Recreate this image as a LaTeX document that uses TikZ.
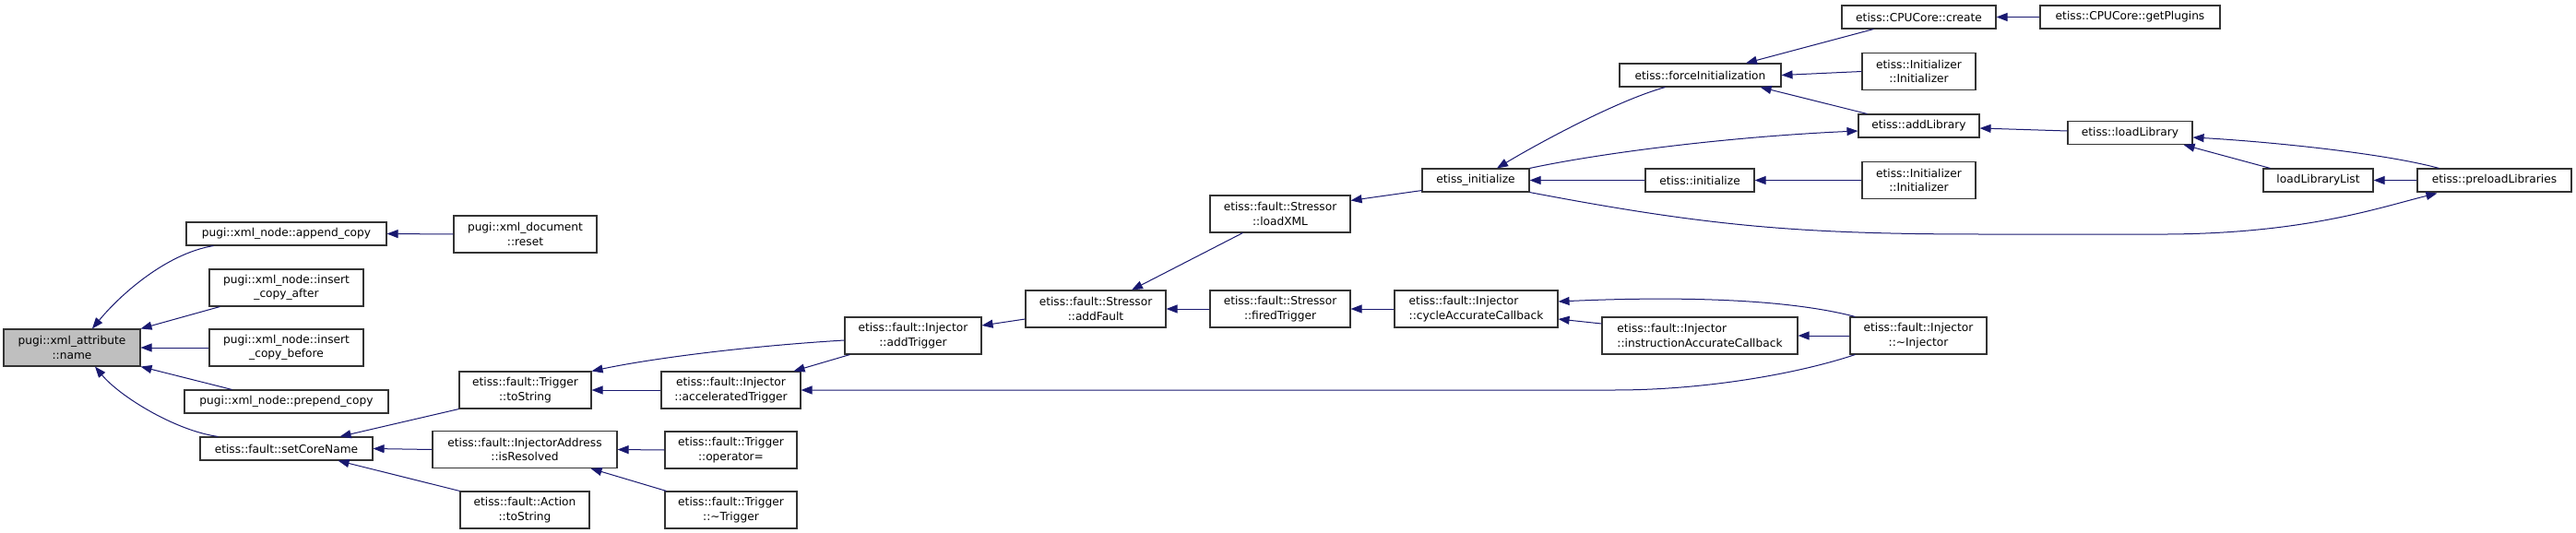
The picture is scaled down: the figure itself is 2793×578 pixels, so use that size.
\documentclass[tikz,border=0pt]{standalone}
\usepackage{fontspec}
\setmainfont{DejaVu Sans}
\usetikzlibrary{arrows.meta,calc}
\definecolor{edgeblue}{HTML}{191970}
\definecolor{rootgray}{HTML}{BFBFBF}
\definecolor{boxline}{HTML}{333333}
\begin{document}
\begin{tikzpicture}[x=1pt,y=-1pt,
  box/.style={draw=boxline, line width=1.1pt, fill=white, rectangle, inner sep=0pt, align=center, font=\fontsize{12.2}{15.5}\selectfont},
  lbox/.style={box, align=left},
  rootbox/.style={box, fill=rootgray},
  callarrow/.style={draw=edgeblue, line width=1pt, {Triangle[length=12pt,width=9pt]}-},
  sz/.style 2 args={minimum width=#1pt, minimum height=#2pt}]
\useasboundingbox (0,0) rectangle (2793,578);

% ---- nodes ----
\node[rootbox, sz={148}{40}] (name) at (78,377) {pugi::xml\_attribute\\::name};
\node[box, sz={217}{25}] (append) at (310.5,253.5) {pugi::xml\_node::append\_copy};
\node[box, sz={167}{40}] (after) at (310.5,312) {pugi::xml\_node::insert\\\_copy\_after};
\node[box, sz={167}{40}] (before) at (310.5,377) {pugi::xml\_node::insert\\\_copy\_before};
\node[box, sz={221}{25}] (prepend) at (310.5,435.5) {pugi::xml\_node::prepend\_copy};
\node[box, sz={187}{25}] (setcore) at (310.5,486.5) {etiss::fault::setCoreName};
\node[box, sz={155}{40}] (reset) at (569.5,254) {pugi::xml\_document\\::reset};
\node[box, sz={143}{40}] (tostr) at (569.5,423) {etiss::fault::Trigger\\::toString};
\node[box, sz={200}{40}] (isres) at (569,487.5) {etiss::fault::InjectorAddress\\::isResolved};
\node[box, sz={140}{40}] (action) at (569,553) {etiss::fault::Action\\::toString};
\node[box, sz={151}{40}] (acc) at (792.5,423) {etiss::fault::Injector\\::acceleratedTrigger};
\node[box, sz={143}{40}] (opeq) at (792.5,488) {etiss::fault::Trigger\\::operator=};
\node[box, sz={143}{40}] (dtrig) at (792.5,553) {etiss::fault::Trigger\\::\textasciitilde Trigger};
\node[box, sz={148}{40}] (addtrig) at (990,364) {etiss::fault::Injector\\::addTrigger};
\node[box, sz={152}{40}] (addfault) at (1188,335) {etiss::fault::Stressor\\::addFault};
\node[box, sz={152}{40}] (loadxml) at (1388,232) {etiss::fault::Stressor\\::loadXML};
\node[box, sz={152}{40}] (fired) at (1388,335) {etiss::fault::Stressor\\::firedTrigger};
\node[lbox, sz={177}{40}] (cycle) at (1600.5,335) {etiss::fault::Injector\\::cycleAccurateCallback};
\node[lbox, sz={212}{40}] (instr) at (1843,364) {etiss::fault::Injector\\::instructionAccurateCallback};
\node[box, sz={148}{40}] (dinj) at (2080,364) {etiss::fault::Injector\\::\textasciitilde Injector};
\node[box, sz={116}{25}] (einit) at (1600,195.5) {etiss\_initialize};
\node[box, sz={175}{25}] (force) at (1843.5,81.5) {etiss::forceInitialization};
\node[box, sz={118}{25}] (initialize) at (1843,195.5) {etiss::initialize};
\node[box, sz={167}{25}] (create) at (2080.5,18.5) {etiss::CPUCore::create};
\node[box, sz={195}{25}] (getplug) at (2309.5,18.5) {etiss::CPUCore::getPlugins};
\node[box, sz={123}{40}] (initA) at (2080.5,77.5) {etiss::Initializer\\::Initializer};
\node[box, sz={131}{25}] (addlib) at (2080.5,136.5) {etiss::addLibrary};
\node[box, sz={135}{25}] (loadlib) at (2309.5,144) {etiss::loadLibrary};
\node[box, sz={123}{40}] (initB) at (2080.5,195.5) {etiss::Initializer\\::Initializer};
\node[box, sz={119}{25}] (lllist) at (2513.5,195.5) {loadLibraryList};
\node[box, sz={167}{25}] (preload) at (2704.5,195.5) {etiss::preloadLibraries};

% ---- edges (arrow head at the callee, path starts there) ----
\draw[callarrow] ($(name.north)+(22,0)$) .. controls (130,320) and (180,275) .. ($(append.south west)+(30,0)$);
\draw[callarrow] (name.north east) -- ($(after.south west)+(12,0)$);
\draw[callarrow] (name.east) -- (before.west);
\draw[callarrow] (name.south east) -- ($(prepend.north west)+(52,0)$);
\draw[callarrow] ($(name.south)+(25,0)$) .. controls (130,430) and (190,467) .. ($(setcore.north west)+(20,0)$);
\draw[callarrow] (append.east) -- (reset.west);
\draw[callarrow] ($(setcore.north east)+(-36,0)$) -- (tostr.south west);
\draw[callarrow] (setcore.east) -- (isres.west);
\draw[callarrow] ($(setcore.south east)+(-38,0)$) -- (action.north west);
\draw[callarrow] (tostr.north east) .. controls (700,390) and (800,376) .. ($(addtrig.west)+(0,5)$);
\draw[callarrow] (tostr.east) -- (acc.west);
\draw[callarrow] ($(acc.north east)+(-8,0)$) -- ($(addtrig.south west)+(6,0)$);
\draw[callarrow] (acc.east) -- (1750,423) .. controls (1850,423) and (1950,405) .. ($(dinj.south west)+(6,0)$);
\draw[callarrow] (isres.east) -- (opeq.west);
\draw[callarrow] ($(isres.south east)+(-29,0)$) -- ($(dtrig.north west)+(2,0)$);
\draw[callarrow] ($(addtrig.east)+(0,-11)$) -- ($(addfault.west)+(0,11)$);
\draw[callarrow] ($(addfault.north)+(39,0)$) -- ($(loadxml.south west)+(36,0)$);
\draw[callarrow] (addfault.east) -- (fired.west);
\draw[callarrow] ($(loadxml.north east)+(0,6)$) -- ($(einit.south west)+(0,-2)$);
\draw[callarrow] (fired.east) -- (cycle.west);
\draw[callarrow] ($(cycle.east)+(0,-8)$) .. controls (1800,322) and (1930,322) .. ($(dinj.north west)+(6,0)$);
\draw[callarrow] ($(cycle.east)+(0,11)$) -- ($(instr.west)+(0,-13)$);
\draw[callarrow] (instr.east) -- (dinj.west);
\draw[callarrow] ($(einit.north)+(23,0)$) .. controls (1660,160) and (1750,110) .. ($(force.south west)+(50,0)$);
\draw[callarrow] (einit.east) -- (initialize.west);
\draw[callarrow] ($(addlib.west)+(0,5.5)$) .. controls (1880,148) and (1740,165) .. (einit.north east);
\draw[callarrow] ($(preload.south west)+(22,1)$) .. controls (2580,225) and (2500,253) .. (2350,254) -- (2150,254) .. controls (1950,254) and (1850,245) .. (einit.south east);
\draw[callarrow] ($(force.north)+(49.5,0)$) -- ($(create.south west)+(35,0)$);
\draw[callarrow] (force.east) -- (initA.west);
\draw[callarrow] ($(force.south east)+(-23,0)$) -- ($(addlib.north west)+(10,0)$);
\draw[callarrow] (create.east) -- (getplug.west);
\draw[callarrow] (initialize.east) -- (initB.west);
\draw[callarrow] ($(addlib.east)+(0,2.5)$) -- ($(loadlib.west)+(0,-2)$);
\draw[callarrow] ($(loadlib.south east)+(-10,0)$) -- ($(lllist.north west)+(8,0)$);
\draw[callarrow] ($(loadlib.east)+(0,5)$) .. controls (2450,153) and (2580,165) .. ($(preload.north west)+(24,0)$);
\draw[callarrow] (lllist.east) -- (preload.west);
\end{tikzpicture}
\end{document}
